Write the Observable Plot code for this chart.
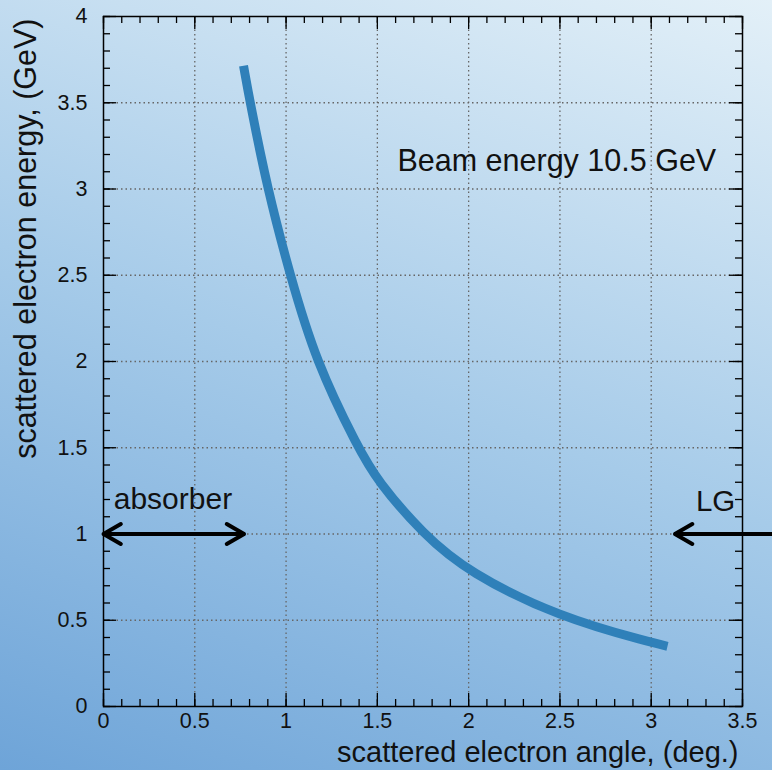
<!DOCTYPE html>
<html><head><meta charset="utf-8">
<script src="https://cdn.jsdelivr.net/npm/d3@7"></script>
<script src="https://cdn.jsdelivr.net/npm/@observablehq/plot@0.6"></script>
<style>
html,body{margin:0;padding:0;}
body{width:772px;height:770px;overflow:hidden;background:linear-gradient(20deg,#6ea4d8 0%,#a6cbe9 50%,#e3f0f8 100%);font-family:"Liberation Sans",Arial,sans-serif;}
</style></head><body><div id="chart"></div>
<script>
// curve readings: scattered electron angle (deg.) vs scattered electron energy (GeV)
const angle  = [0.767, 0.803, 0.898, 1.022, 1.163, 1.394, 1.5, 1.75, 2.0, 2.5, 3.0, 3.089];
const energy = [3.714, 3.5, 3.0, 2.5, 2.0, 1.5, 1.308, 1.0, 0.777, 0.516, 0.371, 0.349];

const xTicks = [0, 0.5, 1, 1.5, 2, 2.5, 3, 3.5];
const xTickLabels = ["0", "0.5", "1", "1.5", "2", "2.5", "3", "3.5"];
const yTicks = [0, 0.5, 1, 1.5, 2, 2.5, 3, 3.5, 4];
const yTickLabels = ["0", "0.5", "1", "1.5", "2", "2.5", "3", "3.5", "4"];

const xTitle = "scattered electron angle, (deg.)";
const yTitle = "scattered electron energy, (GeV)";
const beamLabel = "Beam energy 10.5 GeV";

// annotation readings (data units)
const arrowLevel = 1;
const absorberRange = [0, 0.77];
const lgRange = [3.67, 3.13];
const absorberLabel = {text: "absorber", x: 0.056, y: 1.2};
const lgLabel = {text: "LG", x: 3.245, y: 1.19};
const beamPos = {x: 1.61, y: 3.16};

const W = 772, H = 770, mL = 103, mR = 30, mT = 16, mB = 64;
const frameW = W - mL - mR, frameH = H - mT - mB;
const minorX = d3.range(0, 36).map(i => +(i * 0.1).toFixed(1));
const minorY = d3.range(0, 41).map(i => +(i * 0.1).toFixed(1));
const tickStyle = {stroke: "black", strokeWidth: 1.3};
const minorLen = 7, majorLen = 13;

const curve = angle.map((a, i) => ({angle: a, energy: energy[i]}));
const mid = (absorberRange[0] + absorberRange[1]) / 2;
const arrows = [
  {x1: mid, x2: absorberRange[0]},
  {x1: mid, x2: absorberRange[1]},
  {x1: lgRange[0], x2: lgRange[1]}
];

const chart = Plot.plot({
  width: W, height: H,
  marginLeft: mL, marginRight: mR, marginTop: mT, marginBottom: mB,
  style: {background: "transparent", fontFamily: "'Liberation Sans', Arial, sans-serif", color: "black", overflow: "visible"},
  x: {domain: [0, 3.5], axis: null},
  y: {domain: [0, 4], axis: null},
  marks: [
    // dotted grid
    Plot.ruleX(xTicks.slice(1, -1), {stroke: "#666", strokeWidth: 1.3, strokeDasharray: "1.5,3"}),
    Plot.ruleY(yTicks.slice(1, -1), {stroke: "#666", strokeWidth: 1.3, strokeDasharray: "1.5,3"}),
    // minor ticks on all four sides
    Plot.ruleX(minorX, {...tickStyle, insetTop: frameH - minorLen}),
    Plot.ruleX(minorX, {...tickStyle, insetBottom: frameH - minorLen}),
    Plot.ruleY(minorY, {...tickStyle, insetRight: frameW - minorLen}),
    Plot.ruleY(minorY, {...tickStyle, insetLeft: frameW - minorLen}),
    // major ticks
    Plot.ruleX(xTicks, {...tickStyle, insetTop: frameH - majorLen}),
    Plot.ruleX(xTicks, {...tickStyle, insetBottom: frameH - majorLen}),
    Plot.ruleY(yTicks, {...tickStyle, insetRight: frameW - majorLen}),
    Plot.ruleY(yTicks, {...tickStyle, insetLeft: frameW - majorLen}),
    Plot.frame({stroke: "black", strokeWidth: 1.5}),
    // tick labels
    Plot.text(xTicks, {x: d => d, text: (d, i) => xTickLabels[i], frameAnchor: "bottom", dy: 15, lineAnchor: "middle", fontSize: 21.5, fill: "#111"}),
    Plot.text(yTicks, {y: d => d, text: (d, i) => yTickLabels[i], frameAnchor: "left", dx: -16, textAnchor: "end", lineAnchor: "middle", fontSize: 21.5, fill: "#111"}),
    // axis titles
    Plot.text([xTitle], {frameAnchor: "bottom-right", dx: -4, dy: 55, textAnchor: "end", lineAnchor: "bottom", fontSize: 29, fill: "#111"}),
    Plot.text([yTitle], {frameAnchor: "top-left", rotate: -90, dx: -68, dy: 2, textAnchor: "end", lineAnchor: "bottom", fontSize: 30.5, fill: "#111"}),
    // curve
    Plot.line(curve, {x: "angle", y: "energy", curve: "basis", stroke: "#2f80b9", strokeWidth: 9, strokeLinecap: "butt"}),
    // arrows
    Plot.arrow(arrows, {x1: "x1", x2: "x2", y1: arrowLevel, y2: arrowLevel, stroke: "black", strokeWidth: 4, headLength: 7.5, headAngle: 60, clip: false}),
    // labels
    Plot.text([absorberLabel], {x: "x", y: "y", text: "text", textAnchor: "start", lineAnchor: "middle", fontSize: 30, fill: "#111"}),
    Plot.text([lgLabel], {x: "x", y: "y", text: "text", textAnchor: "start", lineAnchor: "middle", fontSize: 29.5, fill: "#111"}),
    Plot.text([beamLabel], {x: beamPos.x, y: beamPos.y, textAnchor: "start", lineAnchor: "middle", fontSize: 30.5, fill: "#111"})
  ]
});
document.getElementById("chart").appendChild(chart);
</script>
</body></html>
